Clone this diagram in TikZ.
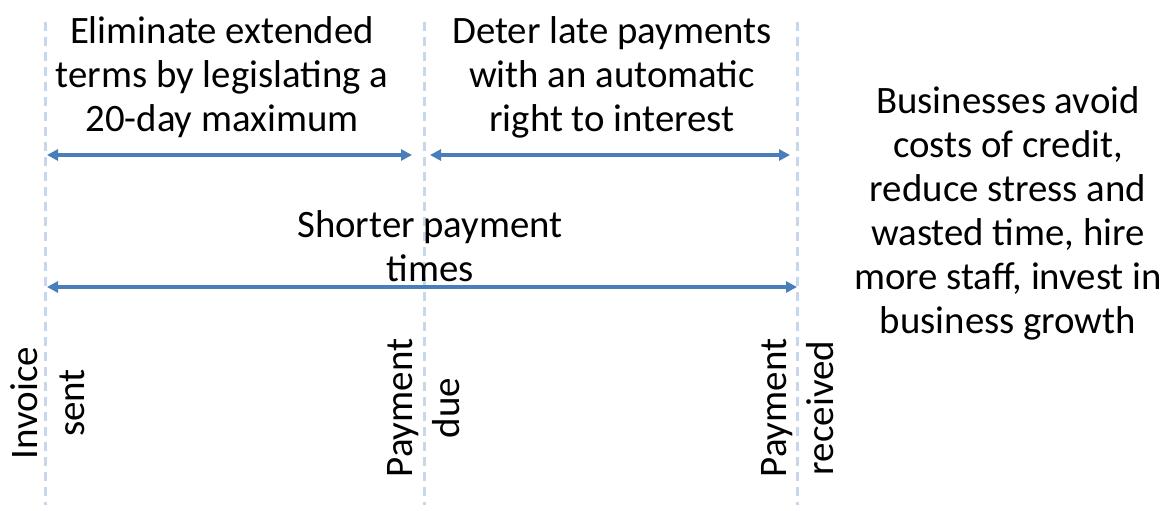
\documentclass[tikz,border=0pt]{standalone}
\usepackage{fontspec}
\setmainfont{Carlito}
\usetikzlibrary{arrows.meta}
\usetikzlibrary{positioning}
\definecolor{spanblue}{RGB}{74,126,187}
\definecolor{tickblue}{RGB}{200,216,236}
\tikzset{every node/.style={align=center,inner sep=0pt,font=\fontsize{38.8}{44}\selectfont},
         event/.style={rotate=90,font=\fontsize{39}{47}\selectfont},
         timeline/.style={draw=tickblue,line width=3pt,dash pattern=on 9pt off 6pt},
         span/.style={draw=spanblue,line width=3.5pt,
                      {Triangle[length=11pt,width=11pt]}-{Triangle[length=11pt,width=11pt]}},
         }

\begin{document}
\begin{tikzpicture}[x=1pt,y=-1pt]
\useasboundingbox (0,0) rectangle (1171,511);
% time lines
\foreach \n/\x in {inv/45,due/424,rcv/797}{
  \coordinate (\n-top) at (\x,22);
  \coordinate (\n-bot) at (\x,505);
  \draw[timeline] (\n-top) -- (\n-bot);
}
\coordinate (row1) at (0,155);
\coordinate (row2) at (0,287);
% labels
\node (elim) at (222,77) {Eliminate extended\\terms by legislating a\\20-day maximum};
\node (deter) at (612,77) {Deter late payments\\with an automatic\\right to interest};
\node (shorter) at (430,246) {Shorter payment\\times};
\node (benefit) at (1008,213) {Businesses avoid\\costs of credit,\\reduce stress and\\wasted time, hire\\more staff, invest in\\business growth};
\node[event] (sent) at (48,403) {Invoice\\sent};
\node[event] (duelbl) at (424,408) {Payment\\due};
\node[event] (rcvlbl) at (798,408) {Payment\\received};
% spans
\draw[span,shorten <=2pt,shorten >=12pt] (inv-top |- row1) -- (due-top |- row1);
\draw[span,shorten <=6pt,shorten >=7pt] (due-top |- row1) -- (rcv-top |- row1);
\draw[span,shorten <=2pt] (inv-top |- row2) -- (rcv-top |- row2);
\end{tikzpicture}
\end{document}
